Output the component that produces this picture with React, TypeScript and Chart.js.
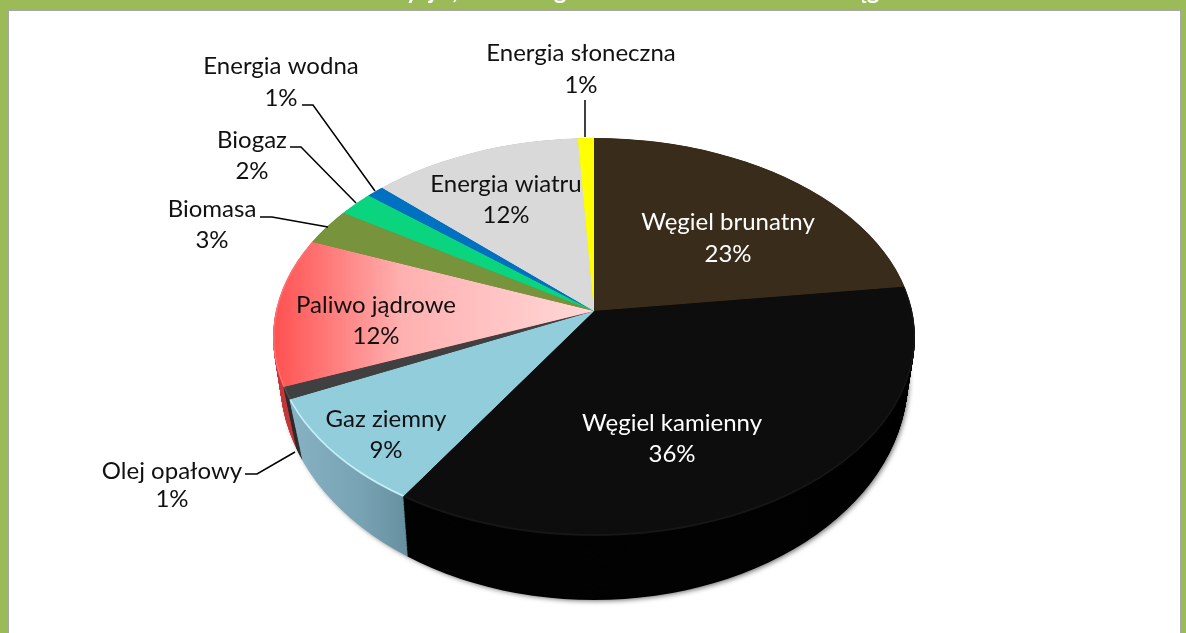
import React, { useEffect, useRef } from "react";
import { Chart, registerables } from "chart.js";

Chart.register(...registerables);

const categories = [
  "Węgiel brunatny",
  "Węgiel kamienny",
  "Gaz ziemny",
  "Olej opałowy",
  "Paliwo jądrowe",
  "Biomasa",
  "Biogaz",
  "Energia wodna",
  "Energia wiatru",
  "Energia słoneczna",
];
const shares = [22.7, 36.3, 9.0, 1.0, 12.8, 3.2, 2.1, 1.0, 11.1, 0.8];
const percentLabels = ["23%", "36%", "9%", "1%", "12%", "3%", "2%", "1%", "12%", "1%"];
const faceColors = ["#3A2C1B", "#0D0D0D", "#92CDDC", "#404040", "#FF5050", "#77933C", "#0BD47F", "#0070C0", "#D9D9D9", "#FFFF00"];
const rimColors = ["#2A1F12", "#030303", "#7AA6B8", "#2E2E2E", "#C63A3A", "#55692A", "#089A5C", "#00508A", "#A0A0A0", "#BDBD00"];
const bevelColors = ["#3A2C1B", "#161616", "#C4F0F8", "#505050", "#FF7070", "#77933C", "#0BD47F", "#0070C0", "#D9D9D9", "#FFFF00"];
const labelColors = ["#FFFFFF", "#FFFFFF", "#111111", "#111111", "#111111", "#111111", "#111111", "#111111", "#111111", "#111111"];
const titleFragments = ["y", "j", ",", "g", "ąg"];

// Layout of the drawing, kept apart from the data.
const W = 1186, H = 633;
const APEX = { x: 594, y: 311 };
const BASE_R = 150;
const OVER = 1.3;
const TOP_FACE = { cx: 594, cy: 337, rx: 321, ry: 199 };
const BOTTOM_FACE = { cx: 594, cy: 378, rx: 314, ry: 222 };
const RIM_DROP = 64;
const UP_RY = 173, LOW_RY = 198, SIDE_RX = 321;
const TITLE_X = [412, 432, 455, 560, 867];
const LABEL_POS = [
  { x: 728, y: 222, dy: 32 },
  { x: 672, y: 423, dy: 31 },
  { x: 386, y: 419, dy: 31 },
  { x: 172, y: 471, dy: 28 },
  { x: 376, y: 305, dy: 31 },
  { x: 212, y: 209, dy: 31 },
  { x: 252, y: 140, dy: 31 },
  { x: 281, y: 66, dy: 32 },
  { x: 506, y: 184, dy: 31 },
  { x: 581, y: 53, dy: 32 },
];
const LEADERS: number[][][] = [
  [[245, 474], [257, 474], [295, 452]],
  [[260, 217], [272, 217], [328, 227]],
  [[290, 147], [301, 147], [356, 203]],
  [[302, 105], [313, 105], [375, 191]],
  [[585, 100], [585, 137]],
];
const FONT = '24px Lato, "Noto Sans", sans-serif';

type Ell = { cx: number; cy: number; rx: number; ry: number };

function drawPieIn(ctx: CanvasRenderingContext2D, arcs: any[], ell: Ell, dropY: number, colors: any[]) {
  ctx.save();
  ctx.beginPath();
  ctx.ellipse(ell.cx, ell.cy, ell.rx, ell.ry, 0, 0, Math.PI * 2);
  ctx.clip();
  const apexY = APEX.y + dropY;
  const sx = (SIDE_RX * OVER) / BASE_R;
  [
    { top: 0, h: apexY, sy: (UP_RY * OVER) / BASE_R },
    { top: apexY, h: H + 200 - apexY, sy: (LOW_RY * OVER) / BASE_R },
  ].forEach((pass) => {
    ctx.save();
    ctx.beginPath();
    ctx.rect(0, pass.top - 0.5, W, pass.h + 1);
    ctx.clip();
    ctx.translate(APEX.x, apexY);
    ctx.scale(sx, pass.sy);
    ctx.translate(-APEX.x, -APEX.y);
    arcs.forEach((arc, i) => {
      const c = Object.create(arc);
      c.options = {
        backgroundColor: colors[i],
        borderColor: colors[i],
        borderWidth: 0,
        borderRadius: 0,
        offset: 0,
        spacing: 0,
        circular: true,
        borderAlign: "center",
        borderDash: [],
        borderDashOffset: 0,
        borderJoinStyle: "round",
      };
      c.draw(ctx);
    });
    ctx.restore();
  });
  ctx.restore();
}

const piePlugin = {
  id: "tiltedPie",
  beforeDraw(chart: any) {
    const ctx = chart.ctx as CanvasRenderingContext2D;
    ctx.save();
    ctx.fillStyle = "#FFFFFF";
    ctx.fillRect(0, 0, W, H);
    ctx.fillStyle = "#A6A6A6";
    ctx.fillRect(7, 9, W - 7 - 4, 2);
    ctx.fillRect(7, 9, 2, H - 9);
    ctx.fillRect(W - 6, 9, 1, H - 9);
    ctx.fillStyle = "#9BBB59";
    ctx.fillRect(0, 0, W, 9);
    ctx.fillRect(0, 0, 7, H);
    ctx.fillRect(W - 5, 0, 5, H);
    ctx.fillStyle = "#FFFFFF";
    ctx.font = 'bold 24px Lato, "Noto Sans", sans-serif';
    ctx.textAlign = "center";
    ctx.textBaseline = "alphabetic";
    titleFragments.forEach((t, i) => ctx.fillText(t, TITLE_X[i], -1));
    ctx.restore();
  },
  beforeDatasetDraw(chart: any) {
    const ctx = chart.ctx as CanvasRenderingContext2D;
    const arcs = chart.getDatasetMeta(0).data;
    const sx = (SIDE_RX * OVER) / BASE_R;
    const gx = (x: number) => APEX.x + (x - APEX.x) / sx;

    const faceGrad = ctx.createLinearGradient(gx(273), 0, gx(594), 0);
    faceGrad.addColorStop(0, "#FF5050");
    faceGrad.addColorStop(0.4, "#FFB0B0");
    faceGrad.addColorStop(1, "#FFD8D8");
    const gasRim = ctx.createLinearGradient(gx(290), 0, gx(407), 0);
    gasRim.addColorStop(0, "#86B2C3");
    gasRim.addColorStop(0.6, "#78A3B4");
    gasRim.addColorStop(1, "#66909F");

    const face = faceColors.map((c, i) => (i === 4 ? faceGrad : c));
    const rim = rimColors.map((c, i) => (i === 2 ? gasRim : c));

    ctx.save();
    ctx.shadowColor = "rgba(0,0,0,0.55)";
    ctx.shadowBlur = 5;
    ctx.shadowOffsetX = 2;
    ctx.shadowOffsetY = 2;
    ctx.fillStyle = "#111";
    ctx.beginPath();
    ctx.ellipse(BOTTOM_FACE.cx, BOTTOM_FACE.cy, BOTTOM_FACE.rx - 1, BOTTOM_FACE.ry - 1, 0, 0, Math.PI * 2);
    ctx.fill();
    ctx.restore();

    const steps = 70;
    for (let s = steps; s >= 1; s--) {
      const t = s / steps;
      const mix = (a: number, b: number) => a + (b - a) * t;
      drawPieIn(
        ctx,
        arcs,
        {
          cx: TOP_FACE.cx,
          cy: mix(TOP_FACE.cy, BOTTOM_FACE.cy),
          rx: mix(TOP_FACE.rx, BOTTOM_FACE.rx),
          ry: mix(TOP_FACE.ry, BOTTOM_FACE.ry),
        },
        RIM_DROP * t,
        rim
      );
    }
    drawPieIn(ctx, arcs, TOP_FACE, 0, bevelColors);
    drawPieIn(ctx, arcs, { ...TOP_FACE, rx: TOP_FACE.rx - 1.5, ry: TOP_FACE.ry - 2 }, 0, face);
    return false;
  },
  afterDatasetsDraw(chart: any) {
    const ctx = chart.ctx as CanvasRenderingContext2D;
    ctx.save();
    ctx.strokeStyle = "#000";
    ctx.lineWidth = 1.5;
    LEADERS.forEach((pts) => {
      ctx.beginPath();
      pts.forEach(([x, y], i) => (i ? ctx.lineTo(x, y) : ctx.moveTo(x, y)));
      ctx.stroke();
    });
    ctx.font = FONT;
    ctx.textAlign = "center";
    ctx.textBaseline = "middle";
    categories.forEach((name, i) => {
      const p = LABEL_POS[i];
      ctx.fillStyle = labelColors[i];
      ctx.fillText(name, p.x, p.y);
      ctx.fillText(percentLabels[i], p.x, p.y + p.dy);
    });
    ctx.restore();
  },
};

export default function App() {
  const ref = useRef<HTMLCanvasElement>(null);
  useEffect(() => {
    document.body.style.margin = "0";
    const chart = new Chart(ref.current!, {
      type: "pie",
      data: {
        labels: categories,
        datasets: [{ data: shares, backgroundColor: faceColors, borderWidth: 0 }],
      },
      options: {
        responsive: false,
        animation: false,
        events: [],
        radius: BASE_R,
        layout: { padding: { left: 2, right: 0, top: 0, bottom: 11 } },
        plugins: { legend: { display: false }, tooltip: { enabled: false }, title: { display: false } },
      },
      plugins: [piePlugin],
    } as any);
    return () => chart.destroy();
  }, []);
  return <canvas ref={ref} width={W} height={H} style={{ display: "block" }} />;
}
